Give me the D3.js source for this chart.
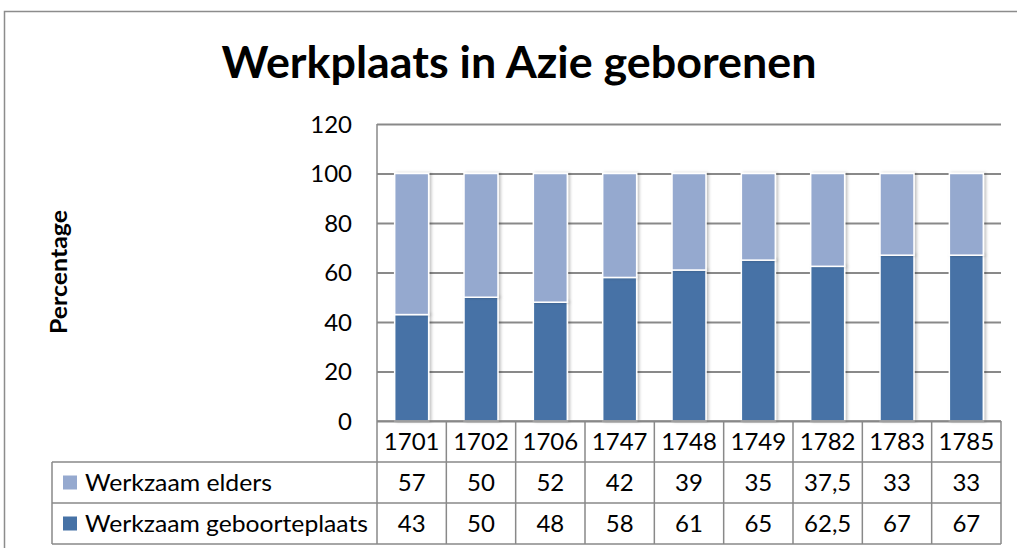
<!DOCTYPE html>
<html>
<head>
<meta charset="utf-8">
<script src="https://cdn.jsdelivr.net/npm/d3@7"></script>
<style>
  body { margin: 0; background: #fff; }
  text { font-family: Lato, "Open Sans", sans-serif; fill: #000; }
</style>
</head>
<body>
<div id="chart"></div>
<script>
const years = ['1701', '1702', '1706', '1747', '1748', '1749', '1782', '1783', '1785'];
const elders = [57, 50, 52, 42, 39, 35, 37.5, 33, 33];
const geboorteplaats = [43, 50, 48, 58, 61, 65, 62.5, 67, 67];
const yTicks = [0, 20, 40, 60, 80, 100, 120];

const seriesNames = ['Werkzaam geboorteplaats', 'Werkzaam elders'];
const colors = { 'Werkzaam geboorteplaats': '#4672a6', 'Werkzaam elders': '#95a9cf' };

const W = 1017, H = 548;
const plotLeft = 377, plotRight = 1001, plotTop = 124, plotBottom = 421;
const rowH = 41;
const tableLeft = 52;
const gridColor = '#898989';
const fontSize = 24;

const svg = d3.select('#chart').append('svg')
  .attr('width', W)
  .attr('height', H);

const defs = svg.append('defs');
const shadow = defs.append('filter').attr('id', 'shadow')
  .attr('x', '-20%').attr('y', '-5%').attr('width', '150%').attr('height', '110%');
shadow.append('feDropShadow')
  .attr('dx', 2).attr('dy', 0).attr('stdDeviation', 1.5)
  .attr('flood-color', '#000').attr('flood-opacity', 0.25);

// chart border
svg.append('rect')
  .attr('x', 4.5).attr('y', 11.5)
  .attr('width', W + 10).attr('height', H + 10)
  .attr('fill', 'none')
  .attr('stroke', '#8c8c8c')
  .attr('stroke-width', 1.5);

svg.append('text')
  .attr('x', 519).attr('y', 78)
  .attr('text-anchor', 'middle')
  .attr('font-size', 44)
  .attr('font-weight', 'bold')
  .attr('textLength', 595)
  .attr('lengthAdjust', 'spacingAndGlyphs')
  .text('Werkplaats in Azie geborenen');

const x = d3.scaleBand().domain(years).range([plotLeft, plotRight]).paddingInner(0.51).paddingOuter(0.255);
const xCell = d3.scaleBand().domain(years).range([plotLeft, plotRight]);
const y = d3.scaleLinear().domain([0, 120]).range([plotBottom, plotTop]);

// gridlines
const yAxis = d3.axisLeft(y).tickValues(yTicks).tickSize(-(plotRight - plotLeft)).tickPadding(25);
const gy = svg.append('g').attr('transform', `translate(${plotLeft},0)`).call(yAxis);
gy.select('.domain').remove();
gy.selectAll('.tick line').attr('stroke', gridColor).attr('stroke-width', 2);
gy.selectAll('.tick text')
  .attr('font-size', fontSize)
  .attr('font-family', 'Lato, sans-serif')
  .attr('fill', '#000')
  .attr('dy', '0.35em');

const rows = years.map((yr, i) => ({ year: yr, 'Werkzaam geboorteplaats': geboorteplaats[i], 'Werkzaam elders': elders[i] }));
const stacked = d3.stack().keys(seriesNames)(rows);

svg.append('g').selectAll('g')
  .data(stacked)
  .join('g')
  .attr('fill', d => colors[d.key])
  .selectAll('rect')
  .data(d => d)
  .join('rect')
  .attr('x', d => x(d.data.year))
  .attr('width', x.bandwidth())
  .attr('y', d => y(d[1]))
  .attr('height', d => y(d[0]) - y(d[1]))
  .attr('stroke', '#fff')
  .attr('stroke-width', 1.5)
  .attr('filter', 'url(#shadow)');

// data table
const table = svg.append('g');
const tableRows = [
  { name: 'Werkzaam elders', values: elders, len: 187 },
  { name: 'Werkzaam geboorteplaats', values: geboorteplaats, len: 283 },
];
const fmt = v => String(v).replace('.', ',');
const lineStyle = sel => sel.attr('stroke', gridColor).attr('stroke-width', 1.5);

// header row (years)
table.selectAll('.yr')
  .data(years)
  .join('text')
  .attr('class', 'yr')
  .attr('x', d => xCell(d) + xCell.bandwidth() / 2)
  .attr('y', plotBottom + rowH / 2)
  .attr('dy', '0.36em')
  .attr('text-anchor', 'middle')
  .attr('font-size', fontSize)
  .text(d => d);

tableRows.forEach((r, ri) => {
  const ry = plotBottom + rowH * (ri + 1);
  table.append('rect')
    .attr('x', tableLeft + 11).attr('y', ry + rowH / 2 - 7)
    .attr('width', 14).attr('height', 14)
    .attr('fill', colors[r.name]);
  table.append('text')
    .attr('x', tableLeft + 33).attr('y', ry + rowH / 2)
    .attr('dy', '0.36em')
    .attr('font-size', fontSize)
    .attr('textLength', r.len)
    .attr('lengthAdjust', 'spacingAndGlyphs')
    .text(r.name);
  table.selectAll(null)
    .data(r.values)
    .join('text')
    .attr('x', (d, i) => xCell(years[i]) + xCell.bandwidth() / 2)
    .attr('y', ry + rowH / 2)
    .attr('dy', '0.36em')
    .attr('text-anchor', 'middle')
    .attr('font-size', fontSize)
    .text(fmt);
});

// horizontal table lines
[0, 1, 2, 3].forEach(k => {
  const ly = plotBottom + rowH * k;
  table.append('line')
    .attr('x1', k === 0 ? plotLeft : tableLeft).attr('x2', plotRight)
    .attr('y1', ly).attr('y2', ly)
    .call(lineStyle);
});
table.append('line').attr('x1', tableLeft).attr('x2', tableLeft)
  .attr('y1', plotBottom + rowH).attr('y2', plotBottom + rowH * 3).call(lineStyle);
years.forEach(yr => {
  table.append('line').attr('x1', xCell(yr) + xCell.bandwidth()).attr('x2', xCell(yr) + xCell.bandwidth())
    .attr('y1', plotBottom).attr('y2', plotBottom + rowH * 3).call(lineStyle);
});
// y axis line
svg.append('line').attr('x1', plotLeft).attr('x2', plotLeft)
  .attr('y1', plotTop).attr('y2', plotBottom + rowH * 3).call(lineStyle);

svg.append('text')
  .attr('transform', 'translate(67,272) rotate(-90)')
  .attr('text-anchor', 'middle')
  .attr('font-size', 22)
  .attr('font-weight', 'bold')
  .attr('textLength', 124)
  .attr('lengthAdjust', 'spacingAndGlyphs')
  .text('Percentage');
</script>
</body>
</html>
